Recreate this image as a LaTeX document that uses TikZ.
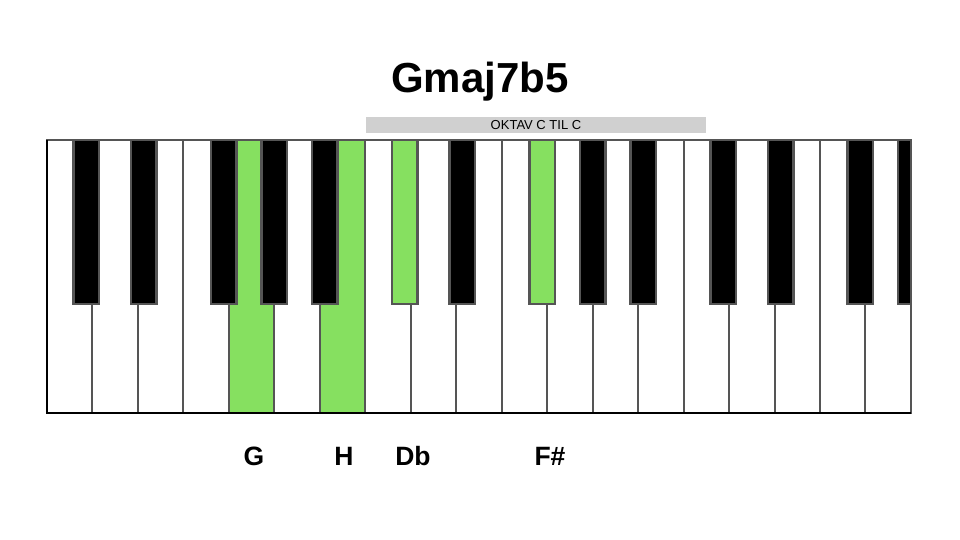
\documentclass[tikz,border=0pt]{standalone}
\usepackage{fontspec}
\setmainfont{Liberation Sans}
\usepackage{xcolor}

\definecolor{keygreen}{RGB}{134,224,96}
\definecolor{keyline}{RGB}{85,85,85}
\definecolor{bargray}{RGB}{208,208,208}

\begin{document}
\begin{tikzpicture}[x=1pt,y=-1pt,
	whitekey/.style={draw=keyline,line width=2pt,fill=white},
	blackkey/.style={draw=keyline,line width=2.5pt,fill=black},
	notelabel/.style={font=\bfseries\fontsize{26.5}{30}\selectfont,anchor=base}]
	\useasboundingbox (0,0) rectangle (960,540);

	\node[font=\bfseries\fontsize{42}{48}\selectfont,anchor=base] (title) at (480,93) {Gmaj7b5};
	\node[fill=bargray,minimum width=340pt,minimum height=16pt,inner sep=0pt] (octavebar) at (536,125) {};
	\node[font=\fontsize{13}{14}\selectfont,anchor=base] (octavetext) at (536,129.5) {OKTAV C TIL C};

	% white keys
	\foreach \k in {0,...,18}
		\draw[whitekey] ({47+\k*45.47},140) rectangle ({47+(\k+1)*45.47},413);
	\foreach \k in {4,6}
		\draw[whitekey,fill=keygreen] ({47+\k*45.47},140) rectangle ({47+(\k+1)*45.47},413);

	% black keys
	\begin{scope}
		\clip (47,140) rectangle (911,413);
		\foreach \o in {0,1,2}
			\foreach \d/\s in {1/-6,2/6,4/-5,5/0,6/5}
				\draw[blackkey] ({47+(7*\o+\d)*45.47+\s-12.75},140) rectangle ({47+(7*\o+\d)*45.47+\s+12.75},303.75);
		\foreach \d/\s in {8/-6,11/-5}
			\draw[blackkey,fill=keygreen] ({47+\d*45.47+\s-12.75},140) rectangle ({47+\d*45.47+\s+12.75},303.75);
	\end{scope}

	\draw[keyline,line width=2pt] (47,140) -- (911,140) -- (911,413);
	\draw[black,line width=2pt] (47,140) -- (47,413) -- (911,413);

	\node[notelabel] (labG) at (254,465) {G};
	\node[notelabel] (labH) at (344,465) {H};
	\node[notelabel] (labDb) at (413,465) {Db};
	\node[notelabel] (labFis) at (550,465) {F\#};
\end{tikzpicture}
\end{document}
